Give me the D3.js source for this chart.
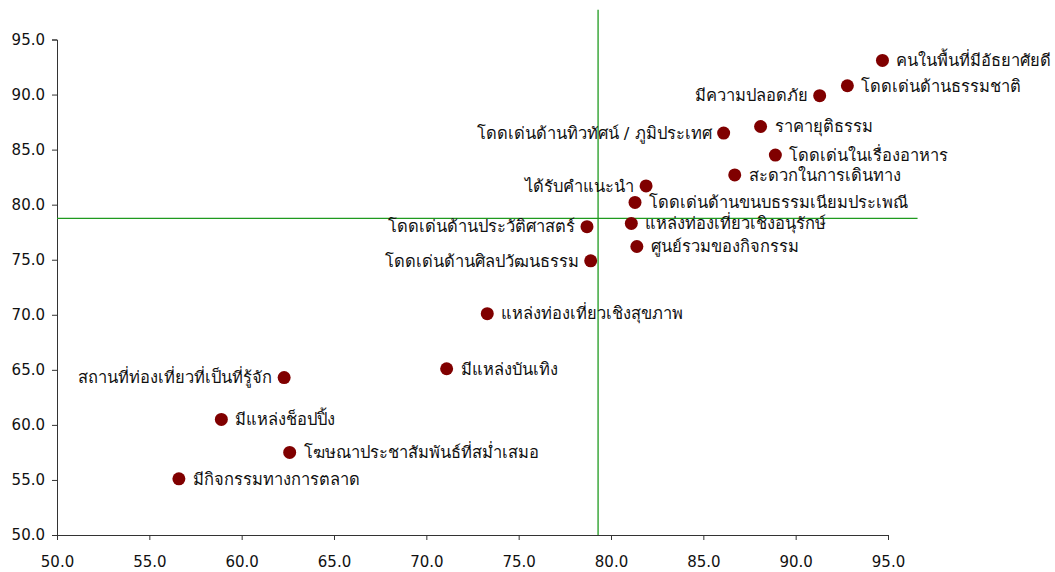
<!DOCTYPE html>
<html><head><meta charset="utf-8">
<script src="https://cdn.jsdelivr.net/npm/d3@7"></script>
<style>
html,body{margin:0;padding:0;background:#fff;}
svg text{font-family:"DejaVu Sans",sans-serif;}
</style></head>
<body><svg id="c" width="1055" height="572"></svg>
<script>
const labels = ["คนในพื้นที่มีอัธยาศัยดี","โดดเด่นด้านธรรมชาติ","มีความปลอดภัย","ราคายุติธรรม","โดดเด่นด้านทิวทัศน์ / ภูมิประเทศ","โดดเด่นในเรื่องอาหาร","สะดวกในการเดินทาง","ได้รับคำแนะนำ","โดดเด่นด้านขนบธรรมเนียมประเพณี","แหล่งท่องเที่ยวเชิงอนุรักษ์","ศูนย์รวมของกิจกรรม","โดดเด่นด้านประวัติศาสตร์","โดดเด่นด้านศิลปวัฒนธรรม","แหล่งท่องเที่ยวเชิงสุขภาพ","มีแหล่งบันเทิง","สถานที่ท่องเที่ยวที่เป็นที่รู้จัก","มีแหล่งช็อปปิ้ง","โฆษณาประชาสัมพันธ์ที่สม่ำเสมอ","มีกิจกรรมทางการตลาด"];
const xValues = [94.7,92.8,91.3,88.1,86.1,88.9,86.7,81.9,81.3,81.1,81.4,78.7,78.9,73.3,71.1,62.3,58.9,62.6,56.6];
const yValues = [93.1,90.8,89.9,87.1,86.5,84.5,82.7,81.7,80.2,78.3,76.2,78.0,74.9,70.1,65.1,64.3,60.5,57.5,55.1];
const labelSide = ["r","r","l","r","l","r","r","l","r","r","r","l","l","r","r","l","r","r","r"];
const xTicks = [50,55,60,65,70,75,80,85,90,95];
const yTicks = [50,55,60,65,70,75,80,85,90,95];
const meanX = 79.3, meanY = 78.75;
const lineXMax = 96.6, lineYMax = 97.7;

const svg = d3.select("#c");
const x = d3.scaleLinear().domain([50,95]).range([57,888]);
const y = d3.scaleLinear().domain([50,95]).range([535,39.5]);
const fmt = d3.format(".1f");

const gx = svg.append("g").attr("transform","translate(0,535)")
  .call(d3.axisBottom(x).tickValues(xTicks).tickFormat(fmt).tickSizeOuter(0).tickSize(5));
const gy = svg.append("g").attr("transform","translate(57,0)")
  .call(d3.axisLeft(y).tickValues(yTicks).tickFormat(fmt).tickSizeOuter(0).tickSize(5));
[gx,gy].forEach(g=>{
  g.selectAll("path,line").attr("stroke","#333");
  g.selectAll("text").attr("font-size","15px").attr("fill","#111");
});
gx.selectAll("text").attr("y",18).attr("dy","0.95em");
gy.selectAll("text").attr("x",-12);

svg.append("line").attr("x1",x(50)).attr("x2",x(lineXMax)).attr("y1",y(meanY)).attr("y2",y(meanY))
  .attr("stroke","#1f9a1f").attr("stroke-width",1.3);
svg.append("line").attr("x1",x(meanX)).attr("x2",x(meanX)).attr("y1",y(50)).attr("y2",y(lineYMax))
  .attr("stroke","#1f9a1f").attr("stroke-width",1.3);

const data = labels.map((l,i)=>({l,x:xValues[i],y:yValues[i],s:labelSide[i]}));
svg.append("g").selectAll("circle").data(data).join("circle")
  .attr("cx",d=>x(d.x)).attr("cy",d=>y(d.y)).attr("r",6.5).attr("fill","#800000");
svg.append("g").selectAll("text").data(data).join("text")
  .attr("x",d=>x(d.x)+(d.s==="r"?14:-12)).attr("y",d=>y(d.y))
  .attr("text-anchor",d=>d.s==="r"?"start":"end").attr("dy","0.35em")
  .attr("font-size","16.5px").attr("fill","#111").text(d=>d.l);
</script></body></html>
